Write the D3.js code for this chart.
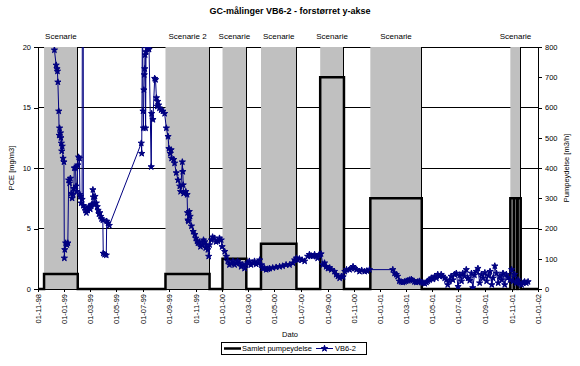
<!DOCTYPE html>
<html><head><meta charset="utf-8">
<script src="https://cdn.jsdelivr.net/npm/d3@7"></script>
<style>
body{margin:0;background:#fff}
svg{display:block}
text{font-family:"Liberation Sans",Arial,sans-serif;fill:#000}
</style>
</head><body>
<svg id="c" width="580" height="366"></svg>
<script>
const chartTitle = "GC-målinger VB6-2 - forstørret y-akse";
const xTitle = "Dato";
const yTitle = "PCE [mg/m3]";
const y2Title = "Pumpeydelse [m3/h]";
const seriesNames = ["Samlet pumpeydelse", "VB6-2"];
const xDomain = ["1998-11-01", "2002-01-01"];
const pceTicks = [0, 5, 10, 15, 20];
const pumpTicks = [0, 100, 200, 300, 400, 500, 600, 700, 800];

const scenarioLabels = ["Scenarie", "Scenarie 2", "Scenarie", "Scenarie", "Scenarie", "Scenarie", "Scenarie"];
const scenarioStart = ["1998-11-15", "1999-08-23", "2000-01-02", "2000-03-31", "2000-08-15", "2000-12-09", "2001-10-29"];
const scenarioEnd   = ["1999-02-01", "1999-12-03", "2000-02-26", "2000-06-21", "2000-10-09", "2001-04-07", "2001-11-22"];

// Samlet pumpeydelse (m3/h), value holds from date until next date
const pumpSteps = [
  ["1998-11-01", 0], ["1998-11-15", 50], ["1999-02-01", 0],
  ["1999-08-23", 50], ["1999-12-03", 0],
  ["2000-01-02", 100], ["2000-02-26", 0],
  ["2000-03-31", 150], ["2000-06-21", 0],
  ["2000-08-15", 700], ["2000-10-09", 0],
  ["2000-12-09", 300], ["2001-04-07", 0],
  ["2001-10-29", 300], ["2001-11-06", 0], ["2001-11-07", 300],
  ["2001-11-14", 0], ["2001-11-15", 300], ["2001-11-22", 0],
  ["2002-01-01", 0]
];

// VB6-2 PCE (mg/m3)
const vb62 = [
  ["1998-12-07",24],["1998-12-09",19.75],["1998-12-13",18.5],["1998-12-15",18.2],["1998-12-16",18.0],
  ["1998-12-17",17.1],["1998-12-19",14.7],["1998-12-20",12.7],["1998-12-21",13.3],["1998-12-23",12.9],
  ["1998-12-24",12.5],["1998-12-25",12.05],["1998-12-26",11.4],["1998-12-27",11.8],["1998-12-29",10.8],
  ["1998-12-31",10.5],["1999-01-01",2.55],["1999-01-02",3.25],["1999-01-04",3.8],["1999-01-07",3.65],
  ["1999-01-09",3.8],["1999-01-11",9.0],["1999-01-13",8.75],["1999-01-15",9.15],["1999-01-17",7.9],
  ["1999-01-19",7.5],["1999-01-21",7.8],["1999-01-23",8.3],["1999-01-24",10.0],["1999-01-27",10.0],
  ["1999-01-28",8.5],["1999-01-30",8.05],["1999-02-01",10.25],["1999-02-03",10.9],["1999-02-05",10.8],
  ["1999-02-06",7.8],["1999-02-07",7.65],["1999-02-09",7.1],["1999-02-11",7.4],["1999-02-13",60],
  ["1999-02-14",6.9],["1999-02-17",6.7],["1999-02-19",6.5],["1999-02-21",6.3],["1999-02-24",6.5],
  ["1999-02-26",6.8],["1999-02-28",6.7],["1999-03-02",6.6],["1999-03-04",6.9],["1999-03-06",7.0],
  ["1999-03-08",8.2],["1999-03-09",7.6],["1999-03-11",7.0],["1999-03-13",7.65],["1999-03-16",7.1],
  ["1999-03-18",6.8],["1999-03-20",6.5],["1999-03-22",6.2],["1999-03-24",6.3],["1999-03-26",6.0],
  ["1999-03-28",5.8],["1999-03-31",5.7],["1999-04-01",2.95],["1999-04-04",2.85],["1999-04-08",2.8],
  ["1999-04-09",5.6],["1999-04-12",5.45],["1999-04-15",5.25],
  ["1999-06-28",12.05],["1999-06-29",11.2],["1999-07-01",25],["1999-07-02",14.7],["1999-07-03",13.3],
  ["1999-07-04",16.45],["1999-07-05",17.7],["1999-07-06",18.2],["1999-07-07",19.35],["1999-07-08",13.3],
  ["1999-07-09",19.6],["1999-07-11",19.9],["1999-07-13",25],["1999-07-14",19.9],["1999-07-16",19.8],
  ["1999-07-21",10.1],["1999-07-22",14.5],["1999-07-25",14.0],["1999-07-29",17.4],["1999-07-31",17.3],
  ["1999-08-02",15.8],["1999-08-04",15.1],["1999-08-05",15.5],["1999-08-07",15.2],["1999-08-09",14.95],
  ["1999-08-13",14.8],["1999-08-17",14.7],["1999-08-21",14.5],["1999-08-25",13.3],["1999-08-29",12.6],
  ["1999-08-31",11.6],["1999-09-03",11.2],["1999-09-05",11.5],["1999-09-06",10.8],["1999-09-11",10.7],
  ["1999-09-13",10.4],["1999-09-17",9.6],["1999-09-21",9.0],["1999-09-25",8.5],["1999-09-27",8.05],
  ["1999-10-01",10.5],["1999-10-02",9.7],["1999-10-03",8.6],["1999-10-04",7.9],["1999-10-09",8.05],
  ["1999-10-12",7.8],["1999-10-13",6.3],["1999-10-14",5.7],["1999-10-15",5.6],["1999-10-17",6.4],
  ["1999-10-19",6.0],["1999-10-22",5.2],["1999-10-26",4.75],["1999-10-30",4.5],["1999-11-01",4.2],
  ["1999-11-04",3.95],["1999-11-06",3.8],["1999-11-09",3.9],["1999-11-12",3.5],["1999-11-16",3.7],
  ["1999-11-19",4.05],["1999-11-22",3.9],["1999-11-24",3.4],["1999-11-26",3.6],["1999-11-29",3.25],
  ["1999-12-01",2.7],["1999-12-03",3.65],["1999-12-07",4.05],["1999-12-10",4.3],["1999-12-14",4.2],
  ["1999-12-18",3.9],["1999-12-22",3.95],["1999-12-26",4.2],["1999-12-30",4.05],["2000-01-01",3.5],
  ["2000-01-07",3.1],["2000-01-11",2.7],["2000-01-14",2.3],["2000-01-18",2.0],["2000-01-22",2.1],
  ["2000-01-26",2.3],["2000-01-30",2.0],["2000-02-03",2.15],["2000-02-06",2.3],["2000-02-10",2.15],
  ["2000-02-14",1.85],["2000-02-18",2.0],["2000-02-22",1.7],["2000-02-26",2.0],["2000-02-29",2.15],
  ["2000-03-04",2.3],["2000-03-08",2.0],["2000-03-12",2.15],["2000-03-16",2.3],["2000-03-20",2.05],
  ["2000-03-24",2.15],["2000-03-28",2.4],["2000-04-01",2.0],["2000-04-04",1.7],["2000-04-08",1.75],
  ["2000-04-12",1.6],["2000-04-16",1.65],["2000-04-20",1.7],["2000-04-27",1.75],["2000-05-05",1.8],
  ["2000-05-13",1.85],["2000-05-20",1.9],["2000-05-28",2.0],["2000-06-05",2.0],["2000-06-13",2.15],
  ["2000-06-17",2.4],["2000-06-21",2.55],["2000-06-24",2.4],["2000-06-28",2.5],["2000-07-04",2.4],
  ["2000-07-10",2.3],["2000-07-17",2.7],["2000-07-21",2.85],["2000-07-25",2.75],["2000-07-29",2.7],
  ["2000-08-02",2.85],["2000-08-06",2.7],["2000-08-09",2.55],["2000-08-13",2.85],["2000-08-17",2.9],
  ["2000-08-21",2.0],["2000-08-25",2.15],["2000-08-29",1.85],["2000-09-02",1.7],["2000-09-06",1.75],
  ["2000-09-10",1.6],["2000-09-17",1.45],["2000-09-21",1.2],["2000-09-25",1.05],["2000-09-29",0.9],
  ["2000-10-03",1.05],["2000-10-07",1.0],["2000-10-11",1.45],["2000-10-15",1.6],["2000-10-22",1.6],
  ["2000-10-26",1.7],["2000-10-30",1.85],["2000-11-03",1.7],["2000-11-07",1.6],["2000-11-14",1.45],
  ["2000-11-19",1.55],["2000-11-26",1.45],["2000-12-01",1.5],["2000-12-07",1.6],
  ["2001-01-30",1.6],["2001-02-03",1.3],["2001-02-07",1.2],["2001-02-10",1.05],["2001-02-14",0.65],
  ["2001-02-18",0.6],["2001-02-22",0.55],["2001-02-26",0.6],["2001-03-02",0.65],["2001-03-06",0.7],
  ["2001-03-10",0.75],["2001-03-14",0.8],["2001-03-17",0.7],["2001-03-21",0.6],["2001-03-25",0.55],
  ["2001-03-29",0.6],["2001-04-02",0.65],["2001-04-06",0.55],["2001-04-10",0.5],["2001-04-14",0.45],
  ["2001-04-18",0.55],["2001-04-21",0.65],["2001-04-25",0.75],["2001-04-29",0.9],["2001-05-03",0.8],
  ["2001-05-07",1.05],["2001-05-11",0.9],["2001-05-14",1.2],["2001-05-18",1.05],["2001-05-22",1.2],
  ["2001-05-26",1.05],["2001-05-30",0.9],["2001-06-03",0.75],["2001-06-06",0.35],["2001-06-10",0.65],
  ["2001-06-14",1.05],["2001-06-18",0.75],["2001-06-22",1.2],["2001-06-26",1.3],["2001-06-30",0.2],
  ["2001-07-04",1.15],["2001-07-08",0.65],["2001-07-11",1.3],["2001-07-15",1.05],["2001-07-19",1.6],
  ["2001-07-23",0.9],["2001-07-27",0.7],["2001-07-31",1.3],["2001-08-03",0.1],["2001-08-07",1.15],
  ["2001-08-11",1.45],["2001-08-15",1.7],["2001-08-19",0.5],["2001-08-23",1.2],["2001-08-27",0.9],
  ["2001-08-31",1.35],["2001-09-04",0.65],["2001-09-08",1.1],["2001-09-12",1.45],["2001-09-16",0.35],
  ["2001-09-19",0.9],["2001-09-23",1.9],["2001-09-27",1.3],["2001-10-01",0.5],["2001-10-05",1.05],
  ["2001-10-09",0.75],["2001-10-12",1.3],["2001-10-16",0.35],["2001-10-20",1.2],["2001-10-24",0.95],
  ["2001-10-28",0.75],["2001-11-01",1.6],["2001-11-04",0.65],["2001-11-08",1.2],["2001-11-12",0.5],
  ["2001-11-16",0.75],["2001-11-20",0.45],["2001-11-24",0.35],["2001-11-28",0.5],["2001-12-01",0.6],
  ["2001-12-05",0.5],["2001-12-09",0.6]
];

const parse = d3.timeParse("%Y-%m-%d");
const L = 38, R = 538, T = 47, B = 289;
const navy = "#000080";

const x = d3.scaleTime().domain(xDomain.map(parse)).range([L, R]);
const y = d3.scaleLinear().domain([0, 20]).range([B, T]);
const y2 = d3.scaleLinear().domain([0, 800]).range([B, T]);

const svg = d3.select("#c");
svg.append("defs").append("clipPath").attr("id", "clip")
  .append("rect").attr("x", L).attr("y", T).attr("width", R - L).attr("height", B - T);

// title
svg.append("text").attr("x", 290).attr("y", 14).attr("text-anchor", "middle")
  .attr("font-size", 9).attr("font-weight", "bold").text(chartTitle);

// gridlines
svg.append("g").selectAll("line").data(pceTicks.filter(d => d > 0)).join("line")
  .attr("x1", L).attr("x2", R).attr("y1", d => y(d)).attr("y2", d => y(d))
  .attr("stroke", "#000").attr("stroke-width", 1).attr("shape-rendering", "crispEdges");

// scenario bands
const bands = scenarioStart.map((s, i) => ({ s: parse(s), e: parse(scenarioEnd[i]), label: scenarioLabels[i] }));
svg.append("g").selectAll("rect").data(bands).join("rect")
  .attr("x", d => x(d.s)).attr("width", d => x(d.e) - x(d.s))
  .attr("y", T).attr("height", B - T).attr("fill", "#c0c0c0");
svg.append("g").selectAll("line").data(bands).join("line")
  .attr("x1", d => x(d.e)).attr("x2", d => x(d.e)).attr("y1", T).attr("y2", B)
  .attr("stroke", "#000").attr("stroke-width", 1).attr("shape-rendering", "crispEdges");
svg.append("g").selectAll("text").data(bands).join("text")
  .attr("x", d => (x(d.s) + x(d.e)) / 2).attr("y", 39).attr("text-anchor", "middle")
  .attr("font-size", 8).text(d => d.label);

// axes
const xTicks = d3.timeMonth.every(2).range(parse(xDomain[0]), d3.timeDay.offset(parse(xDomain[1]), 1));
const gx = svg.append("g").attr("transform", `translate(0,${B})`)
  .call(d3.axisBottom(x).tickValues(xTicks).tickFormat(d3.timeFormat("%d-%m-%y")).tickSize(3).tickSizeOuter(0));
gx.selectAll("text").attr("transform", "rotate(-90)").attr("text-anchor", "end")
  .attr("x", -5).attr("y", 0).attr("dy", "0.33em").attr("font-size", 7.5)
  .attr("font-family", "Liberation Sans, Arial, sans-serif");

const gy = svg.append("g").attr("transform", `translate(${L},0)`)
  .call(d3.axisLeft(y).tickValues(pceTicks).tickSize(4).tickSizeOuter(0));
gy.selectAll("text").attr("font-size", 7.5).attr("font-family", "Liberation Sans, Arial, sans-serif");

const gy2 = svg.append("g").attr("transform", `translate(${R},0)`)
  .call(d3.axisRight(y2).tickValues(pumpTicks).tickSize(4).tickSizeOuter(0));
gy2.selectAll("text").attr("font-size", 7.5).attr("font-family", "Liberation Sans, Arial, sans-serif");

[gx, gy, gy2].forEach(g => {
  g.selectAll("path,line").attr("stroke", "#000").attr("shape-rendering", "crispEdges");
});

// pump line
const pumpData = pumpSteps.map(d => ({ date: parse(d[0]), v: d[1] }));
svg.append("path").datum(pumpData)
  .attr("d", d3.line().curve(d3.curveStepAfter).x(d => x(d.date)).y(d => y2(d.v)))
  .attr("fill", "none").attr("stroke", "#000").attr("stroke-width", 2.5);

// VB6-2 series
const vbData = vb62.map(d => ({ date: parse(d[0]), v: d[1] }));
const gData = svg.append("g").attr("clip-path", "url(#clip)");
gData.append("path").datum(vbData)
  .attr("d", d3.line().x(d => x(d.date)).y(d => y(d.v)))
  .attr("fill", "none").attr("stroke", navy).attr("stroke-width", 1);
const star = d3.symbol().type(d3.symbolStar).size(12);
gData.selectAll("path.m").data(vbData).join("path").attr("class", "m")
  .attr("transform", d => `translate(${x(d.date)},${y(d.v)})`)
  .attr("d", star).attr("fill", navy).attr("stroke", navy).attr("stroke-width", 1)
  .attr("stroke-linejoin", "round");

// axis titles
svg.append("text").attr("transform", `translate(14,${(T + B) / 2}) rotate(-90)`)
  .attr("text-anchor", "middle").attr("font-size", 7.5).text(yTitle);
svg.append("text").attr("transform", `translate(569,${(T + B) / 2}) rotate(-90)`)
  .attr("text-anchor", "middle").attr("font-size", 7.5).text(y2Title);
svg.append("text").attr("x", (L + R) / 2 + 2).attr("y", 337)
  .attr("text-anchor", "middle").attr("font-size", 7.5).text(xTitle);

// legend
const lg = svg.append("g");
lg.append("rect").attr("x", 221.5).attr("y", 342.5).attr("width", 145).attr("height", 12)
  .attr("fill", "#fff").attr("stroke", "#000");
lg.append("line").attr("x1", 224).attr("x2", 241).attr("y1", 348.5).attr("y2", 348.5)
  .attr("stroke", "#000").attr("stroke-width", 2.5);
lg.append("text").attr("x", 242).attr("y", 351.3).attr("font-size", 7.5).text(seriesNames[0]);
lg.append("line").attr("x1", 316).attr("x2", 333).attr("y1", 348.5).attr("y2", 348.5)
  .attr("stroke", navy).attr("stroke-width", 1);
lg.append("path").attr("transform", "translate(324.5,348.5)").attr("d", star)
  .attr("fill", navy).attr("stroke", navy).attr("stroke-width", 1).attr("stroke-linejoin", "round");
lg.append("text").attr("x", 335).attr("y", 351.3).attr("font-size", 7.5).text(seriesNames[1]);
</script>
</body></html>
